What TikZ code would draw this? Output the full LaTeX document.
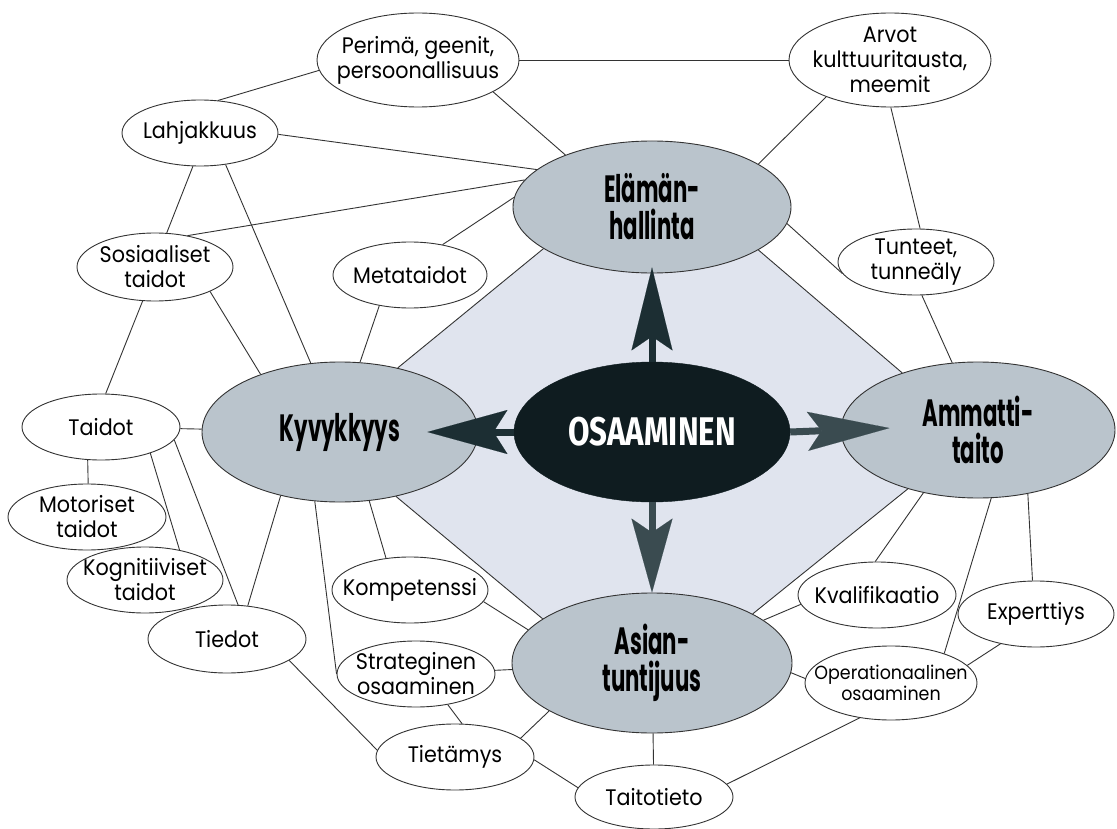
\documentclass[tikz,border=0pt]{standalone}
\usepackage{fontspec}
\setmainfont{Poppins}[FakeStretch=0.92]
\newfontfamily\bigfont{Poppins}[FakeStretch=0.56]
\newfontfamily\osafont{Fira Sans}[FakeStretch=0.78]
\usetikzlibrary{shapes.geometric,arrows.meta}
\pgfdeclarelayer{background}
\pgfsetlayers{background,main}
\definecolor{linec}{HTML}{333333}
\definecolor{bigfill}{HTML}{BAC4CC}
\definecolor{diamfill}{HTML}{E0E4EE}
\definecolor{osafill}{HTML}{0F1C20}
\definecolor{arrowA}{HTML}{1C2E33}
\definecolor{arrowB}{HTML}{3A4B50}
\tikzset{
  sm/.style={ellipse, draw=linec, line width=0.9pt, fill=white, inner sep=0pt},
  big/.style={ellipse, draw=linec, line width=0.9pt, fill=bigfill, inner sep=0pt},
  smtxt/.style={font=\fontsize{22.5}{25}\selectfont, align=center, inner sep=0pt, text=black},
  optxt/.style={font=\fontsize{19}{21}\selectfont, align=center, inner sep=0pt, text=black},
  bigtxt/.style={font=\bigfont\bfseries\fontsize{38}{37}\selectfont, align=center, inner sep=0pt, text=black},
  osatxt/.style={font=\osafont\bfseries\fontsize{40}{42}\selectfont, inner sep=0pt, text=white},
  conn/.style={draw=linec, line width=0.9pt},
  bigarrow/.style={line width=7pt}
}
\begin{document}
\begin{tikzpicture}[x=1pt,y=1pt]
\useasboundingbox (0,0) rectangle (1117,-829);

% small nodes
\node[sm, minimum width=202pt, minimum height=94pt, label={[smtxt]center:{Perimä, geenit,\\persoonallisuus}}] (per) at (418,-60) {};
\node[sm, minimum width=202pt, minimum height=94pt, label={[smtxt]center:{Arvot\\kulttuuritausta,\\meemit}}] (arv) at (890,-60) {};
\node[sm, minimum width=156pt, minimum height=66pt, label={[smtxt]center:Lahjakkuus}] (lah) at (200,-133) {};
\node[sm, minimum width=156pt, minimum height=68pt, label={[smtxt]center:{Sosiaaliset\\taidot}}] (soc) at (155,-267) {};
\node[sm, minimum width=154pt, minimum height=66pt, label={[smtxt]center:Metataidot}] (met) at (410,-275) {};
\node[sm, minimum width=156pt, minimum height=66pt, label={[smtxt]center:{Tunteet,\\tunneäly}}] (tun) at (916,-262) {};
\node[sm, minimum width=158pt, minimum height=66pt, label={[smtxt]center:Taidot}] (tai) at (101,-427) {};
\node[sm, minimum width=158pt, minimum height=66pt, label={[smtxt]center:{Motoriset\\taidot}}] (mot) at (87,-517) {};
\node[sm, minimum width=156pt, minimum height=66pt, label={[smtxt]center:{Kognitiiviset\\taidot}}] (kog) at (145,-580) {};
\node[sm, minimum width=158pt, minimum height=68pt, label={[smtxt]center:Tiedot}] (tie) at (227,-639) {};
\node[sm, minimum width=156pt, minimum height=66pt, label={[smtxt]center:Kompetenssi}] (kom) at (410,-590) {};
\node[sm, minimum width=158pt, minimum height=66pt, label={[smtxt]center:{Strateginen\\osaaminen}}] (str) at (416,-674) {};
\node[sm, minimum width=158pt, minimum height=66pt, label={[smtxt]center:Tietämys}] (tim) at (455,-757) {};
\node[sm, minimum width=158pt, minimum height=64pt, label={[smtxt]center:Taitotieto}] (tat) at (654,-797) {};
\node[sm, minimum width=158pt, minimum height=66pt, label={[smtxt]center:Kvalifikaatio}] (kva) at (877,-595) {};
\node[sm, minimum width=156pt, minimum height=66pt, label={[smtxt]center:Experttiys}] (exp) at (1036,-614) {};
\node[sm, minimum width=172pt, minimum height=74pt, label={[optxt]center:{Operationaalinen\\osaaminen}}] (ope) at (891,-683) {};

% big nodes
\node[big, minimum width=278pt, minimum height=132pt, label={[bigtxt]center:{Elämän-\\hallinta}}] (elam) at (652,-207) {};
\node[big, minimum width=276pt, minimum height=140pt, label={[bigtxt]center:Kyvykkyys}] (kyv) at (340,-432) {};
\node[big, minimum width=274pt, minimum height=136pt, label={[bigtxt]center:{Ammatti-\\taito}}] (amm) at (978,-430) {};
\node[big, minimum width=280pt, minimum height=140pt, label={[bigtxt]center:{Asian-\\tuntijuus}}] (asi) at (652,-663) {};

% background diamond
\begin{pgfonlayer}{background}
  \fill[white] (0,0) rectangle (1117,-829);
  \fill[diamfill] (elam.201.5) -- (elam.338.5) -- (amm.143) -- (amm.220) -- (asi.26) -- (asi.158) -- (kyv.311) -- (kyv.48.7) -- cycle;
\end{pgfonlayer}

% connectors
\draw[conn] (per) -- (arv);
\draw[conn] (per.186) -- (lah.61);
\draw[conn] (per.337) -- (elam.149);
\draw[conn] (lah.-1) -- (elam.162);
\draw[conn] (lah.258) -- (soc.71);
\draw[conn] (lah.309) -- (kyv.113);
\draw[conn] (soc.44) -- (elam.168);
\draw[conn] (soc.336) -- (kyv.144);
\draw[conn] (soc.250) -- (tai.82);
\draw[conn] (met.43) -- (elam.176);
\draw[conn] (met.225) -- (kyv.74);
\draw[conn] (arv.210) -- (elam.22);
\draw[conn] (arv.271) -- (tun.83);
\draw[conn] (elam.353) -- (tun.189);
\draw[conn] (tun.280) -- (amm.111);
\draw[conn] (tai) -- (kyv);
\draw[conn] (tai.248) -- (mot.88);
\draw[conn] (tai.332) -- (kog.41);
\draw[conn] (tai.350) -- (tie.72);
\draw[conn] (kyv.227) -- (tie.58);
\draw[conn] (kyv.250) -- (str.180);
\draw[conn] (kyv.293) -- (kom.127);
\draw[conn] (kom.351) -- (asi.165);
\draw[conn] (str) -- (asi);
\draw[conn] (str.316) -- (tim.78);
\draw[conn] (tie.341) -- (tim.175);
\draw[conn] (tim.16) -- (asi.205);
\draw[conn] (tim.358) -- (tat.173);
\draw[conn] (asi) -- (tat);
\draw[conn] (tat.10) -- (ope.228);
\draw[conn] (asi.356) -- (ope.177);
\draw[conn] (asi.21) -- (kva.187);
\draw[conn] (kva.93) -- (amm.229);
\draw[conn] (ope.29) -- (amm.281);
\draw[conn] (exp.96) -- (amm.308);
\draw[conn] (ope.13) -- (exp.220);
% diamond edges
\draw[conn] (elam.201.5) -- (kyv.48.7);
\draw[conn] (elam.338.5) -- (amm.143);
\draw[conn] (kyv.311) -- (asi.158);
\draw[conn] (asi.26) -- (amm.220);

% centre
\node[ellipse, fill=osafill, draw=osafill, inner sep=0pt, minimum width=276pt, minimum height=140pt, label={[osatxt]center:OSAAMINEN}] (osa) at (652,-432) {};

% arrows
\draw[bigarrow, arrowA, shorten >=-6pt, -{Stealth[length=83pt,width=41pt,inset=14pt,line width=0.1pt]}] (osa) -- (elam);
\draw[bigarrow, arrowB, -{Stealth[length=74pt,width=41pt,inset=14pt,line width=0.1pt]}] (osa) -- (asi);
\draw[bigarrow, arrowA, shorten >=-51pt, -{Stealth[length=80pt,width=44pt,inset=14pt,line width=0.1pt]}] (osa.west) -- (kyv.east);
\draw[bigarrow, arrowB, shorten >=-49pt, -{Stealth[length=82pt,width=39pt,inset=14pt,line width=0.1pt]}] (osa.east) -- (amm.west);
\end{tikzpicture}
\end{document}
